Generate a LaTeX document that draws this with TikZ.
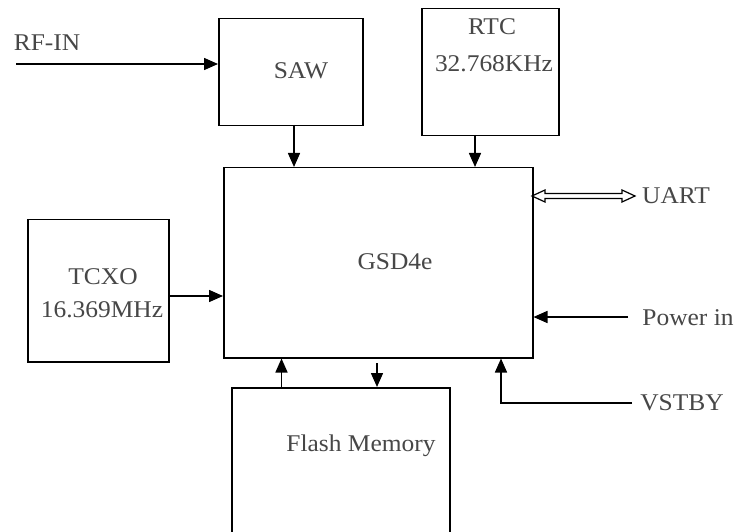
\documentclass[tikz,border=0pt]{standalone}
\usepackage{fontspec}
\setmainfont{Liberation Serif}[FakeStretch=1.06]
\usetikzlibrary{arrows.meta,calc}
\begin{document}
\begin{tikzpicture}[x=1pt,y=-1pt,
  box/.style={draw=black,line width=1.5pt,rectangle,inner sep=0pt,anchor=north west},
  lbl/.style={text=black!72,font=\fontsize{24}{28}\selectfont,inner sep=0pt},
  conn/.style={draw=black,line width=1.5pt,-{Triangle[length=14pt,width=12pt]}},
  plain/.style={draw=black,line width=1.5pt}]
\useasboundingbox (0,0) rectangle (737,532);
\clip (0,0) rectangle (737,532);
\fill[white] (0,0) rectangle (737,532);
% boxes
\node[box,minimum width=144pt,minimum height=107pt] (saw) at (218,18) {};
\node[box,minimum width=137pt,minimum height=127pt] (rtc) at (421,8) {};
\node[box,minimum width=309pt,minimum height=190pt] (gsd) at (223,167) {};
\node[box,minimum width=141pt,minimum height=142pt] (tcxo) at (27,219) {};
\node[box,minimum width=218pt,minimum height=160pt] (flash) at (231,387) {};
% labels
\node[lbl] (rfinT) at (47,43) {RF-IN};
\node[lbl] (sawT) at (301,71) {SAW};
\node[lbl] (rtcT1) at (492,27) {RTC};
\node[lbl] (rtcT2) at (494,64) {32.768KHz};
\node[lbl] (gsdT) at (395,262) {GSD4e};
\node[lbl] (tcxoT1) at (103,277) {TCXO};
\node[lbl] (tcxoT2) at (102,310) {16.369MHz};
\node[lbl] (flashT) at (361,446) {Flash Memory};
\node[lbl] (uartT) at (676,196) {UART};
\node[lbl] (powT) at (688,318) {Power in};
\node[lbl] (vstT) at (682,403) {VSTBY};
% free ends
\coordinate (rfin) at (16,64);
\coordinate (powS) at (628,317);
\coordinate (vstS) at (632,403);
\coordinate (vstC) at (501,403);
\coordinate (uL) at (532,196);
\coordinate (uR) at (635,196);
% connectors
\draw[conn] (rfin) -- (rfin -| saw.west);
\draw[conn] (294,125) coordinate (s1) -- (s1 |- gsd.north);
\draw[conn] (475,135) coordinate (r1) -- (r1 |- gsd.north);
\draw[conn] (tcxo.east |- 0,296) -- (gsd.west |- 0,296);
\draw[conn] (powS) -- (powS -| gsd.east);
\draw[conn] (vstS) -- (vstC) -- (vstC |- gsd.south);
\draw[conn] (281.5,387) coordinate (f1) -- (f1 |- gsd.south);
\draw[conn] (377,363) coordinate (g1) -- (g1 |- flash.north);
% UART double hollow arrow
\draw[line width=1.2pt,fill=white]
  (uL) -- ($(uL)+(13,-6)$) -- ($(uL)+(13,-2.5)$) -- ($(uR)+(-13,-2.5)$) -- ($(uR)+(-13,-6)$)
  -- (uR) -- ($(uR)+(-13,6)$) -- ($(uR)+(-13,2.5)$) -- ($(uL)+(13,2.5)$) -- ($(uL)+(13,6)$) -- cycle;
\end{tikzpicture}
\end{document}
